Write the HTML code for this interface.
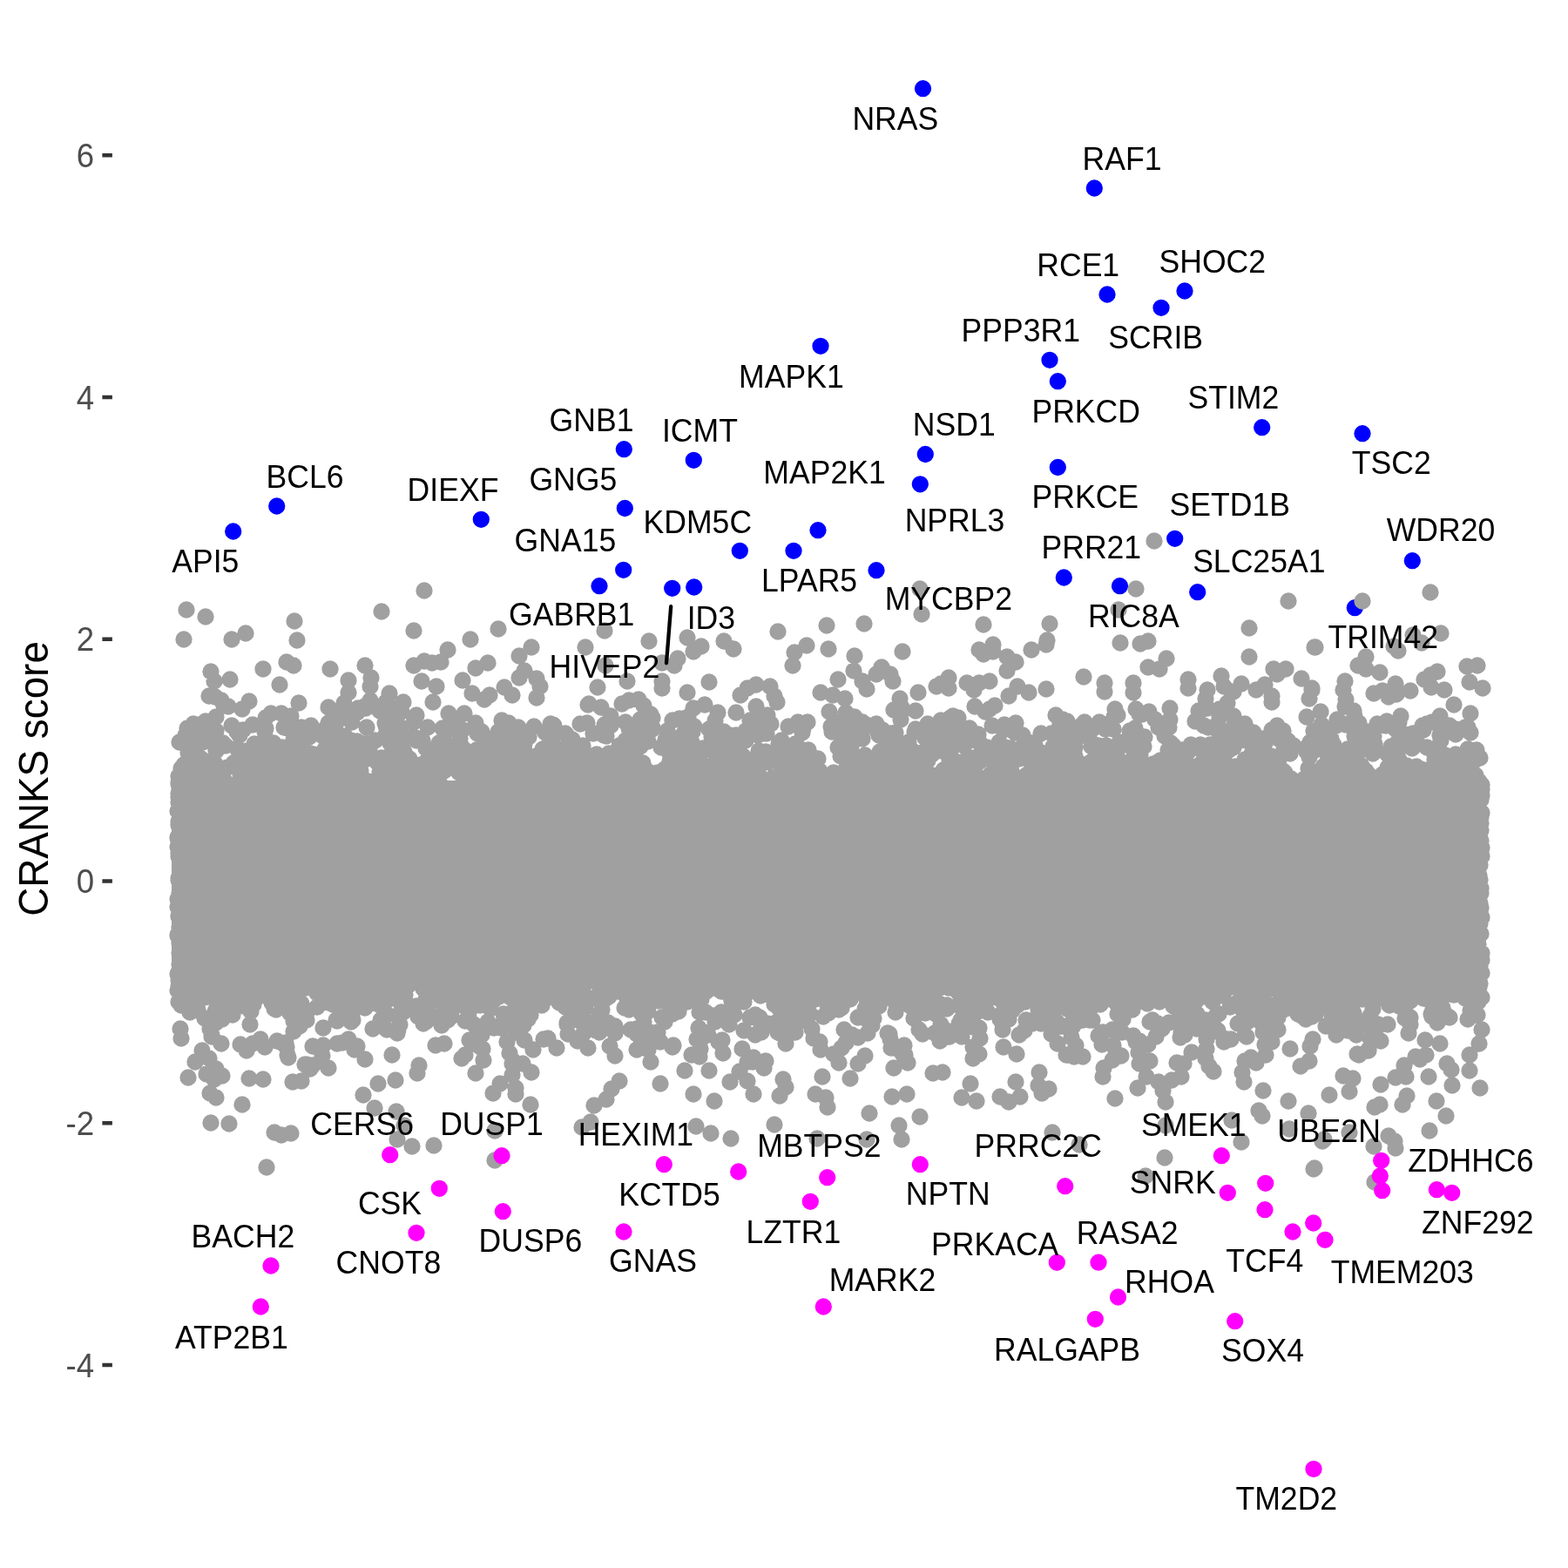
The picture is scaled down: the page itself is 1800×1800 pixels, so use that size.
<!DOCTYPE html><html><head><meta charset="utf-8"><title>CRANKS score</title>
<style>html,body{margin:0;padding:0;background:#fff}svg{display:block}text{font-family:"Liberation Sans",sans-serif}.lab{font-size:35.6px;fill:#000;text-anchor:middle}.tick{font-size:36.67px;fill:#4d4d4d;text-anchor:end}.ytitle{font-size:45.83px;fill:#000;text-anchor:middle}</style></head><body>
<svg width="1800" height="1800" viewBox="0 0 1800 1800">
<rect width="1800" height="1800" fill="#fff"/>
<rect x="117.4" y="176.00" width="11.5" height="4.5" fill="#333"/>
<text class="tick" transform="translate(108.2,191.8) scale(1,1.045)">6</text>
<rect x="117.4" y="453.75" width="11.5" height="4.5" fill="#333"/>
<text class="tick" transform="translate(108.2,469.5) scale(1,1.045)">4</text>
<rect x="117.4" y="731.50" width="11.5" height="4.5" fill="#333"/>
<text class="tick" transform="translate(108.2,747.2) scale(1,1.045)">2</text>
<rect x="117.4" y="1009.25" width="11.5" height="4.5" fill="#333"/>
<text class="tick" transform="translate(108.2,1025.0) scale(1,1.045)">0</text>
<rect x="117.4" y="1287.00" width="11.5" height="4.5" fill="#333"/>
<text class="tick" transform="translate(108.2,1302.8) scale(1,1.045)">-2</text>
<rect x="117.4" y="1564.75" width="11.5" height="4.5" fill="#333"/>
<text class="tick" transform="translate(108.2,1580.5) scale(1,1.045)">-4</text>
<text class="ytitle" transform="translate(55,894) rotate(-90) scale(1,1.045)" >CRANKS score</text>
<path d="M1059.5 101.7h.01M1256.3 216.0h.01M1271.0 338.0h.01M1360.0 334.0h.01M1333.0 353.3h.01M1205.0 413.3h.01M1214.3 437.7h.01M1448.7 490.7h.01M1564.0 497.7h.01M1214.3 536.5h.01M1348.7 618.3h.01M942.0 397.3h.01M716.3 515.7h.01M796.3 528.3h.01M1062.3 521.5h.01M1056.3 555.8h.01M717.3 583.5h.01M317.7 581.0h.01M267.7 610.0h.01M552.3 596.3h.01M715.7 654.3h.01M688.0 672.7h.01M771.7 675.3h.01M796.7 674.0h.01M849.3 632.3h.01M911.0 632.3h.01M939.0 608.7h.01M1006.0 654.7h.01M1221.3 663.0h.01M1285.5 672.7h.01M1374.7 679.7h.01M1621.3 643.7h.01M1555.3 697.7h.01" stroke="#0000ff" stroke-width="19.3" stroke-linecap="round" fill="none"/>
<rect x="197.0" y="896" width="1508.8" height="239" fill="#a0a0a0"/>
<path d="M247 800h.01M1594 800h.01M970 802h.01M616 801h.01M1384 802h.01M1033 802h.01M733 803h.01M556 803h.01M1503 802h.01M1545 803h.01M425 804h.01M254 804h.01M722 804h.01M443 806h.01M892 806h.01M286 805h.01M463 806h.01M1460 806h.01M395 807h.01M497 806h.01M1409 807h.01M343 807h.01M676 808h.01M1669 809h.01M714 808h.01M675 809h.01M809 809h.01M1142 810h.01M868 811h.01M1544 811h.01M257 810h.01M448 811h.01M420 810h.01M739 810h.01M1119 811h.01M262 811h.01M1035 812h.01M690 812h.01M796 813h.01M377 812h.01M420 813h.01M278 814h.01M1280 814h.01M1343 813h.01M1386 813h.01M411 813h.01M1136 814h.01M1304 814h.01M1400 814h.01M1032 815h.01M1026 815h.01M436 816h.01M1378 816h.01M1554 816h.01M1516 817h.01M1319 817h.01M1376 816h.01M1051 816h.01M1035 817h.01M1131 817h.01M845 818h.01M410 818h.01M824 818h.01M952 817h.01M971 818h.01M461 817h.01M1688 819h.01M384 818h.01M515 819h.01M1308 820h.01M323 819h.01M747 820h.01M311 819h.01M533 819h.01M1311 820h.01M881 821h.01M334 822h.01M1416 822h.01M875 821h.01M1555 822h.01M1653 822h.01M1212 821h.01M478 821h.01M1283 821h.01M1608 822h.01M701 822h.01M1094 822h.01M395 822h.01M790 823h.01M981 823h.01M1400 823h.01M248 823h.01M1279 823h.01M749 824h.01M448 823h.01M1091 824h.01M1500 823h.01M1100 824h.01M305 824h.01M780 825h.01M784 825h.01M1034 826h.01M1326 826h.01M735 826h.01M866 825h.01M1535 826h.01M821 827h.01M861 827h.01M1343 826h.01M1220 826h.01M576 827h.01M236 828h.01M387 828h.01M523 827h.01M1080 827h.01M772 827h.01M787 827h.01M475 829h.01M1262 829h.01M1372 828h.01M404 829h.01M1245 829h.01M1225 828h.01M718 829h.01M927 829h.01M1606 829h.01M784 828h.01M1592 828h.01M1644 829h.01M990 829h.01M1166 830h.01M971 829h.01M959 829h.01M1538 829h.01M916 829h.01M584 830h.01M674 830h.01M1095 830h.01M450 830h.01M1265 831h.01M875 831h.01M546 830h.01M1217 830h.01M1560 830h.01M1429 831h.01M1549 831h.01M442 830h.01M546 830h.01M377 830h.01M232 831h.01M745 831h.01M885 831h.01M1006 831h.01M632 831h.01M666 831h.01M1065 831h.01M694 832h.01M222 831h.01M290 832h.01M1153 832h.01M1638 831h.01M1581 831h.01M981 832h.01M1398 831h.01M918 831h.01M635 832h.01M1382 833h.01M701 833h.01M876 832h.01M998 833h.01M1241 833h.01M266 833h.01M1584 833h.01M1664 833h.01M1417 832h.01M1545 832h.01M1517 832h.01M1139 833h.01M1269 833h.01M1657 832h.01M357 833h.01M1633 833h.01M875 833h.01M905 834h.01M613 834h.01M636 833h.01M727 834h.01M443 833h.01M1591 833h.01M1466 833h.01M1534 833h.01M1685 835h.01M1330 835h.01M1682 835h.01M421 835h.01M797 834h.01M954 834h.01M232 834h.01M1096 835h.01M1303 836h.01M326 835h.01M1342 835h.01M1387 835h.01M215 836h.01M867 835h.01M595 835h.01M722 836h.01M455 835h.01M1113 836h.01M376 835h.01M491 835h.01M448 835h.01M518 835h.01M922 836h.01M749 835h.01M346 835h.01M460 835h.01M508 836h.01M305 836h.01M749 837h.01M330 836h.01M1231 837h.01M978 837h.01M374 836h.01M1051 837h.01M1671 837h.01M1083 837h.01M1248 836h.01M1106 836h.01M742 836h.01M217 837h.01M1278 837h.01M635 836h.01M1460 838h.01M1602 837h.01M1254 837h.01M1007 837h.01M1013 838h.01M724 837h.01M1269 837h.01M814 837h.01M1659 838h.01M1508 839h.01M531 838h.01M1246 838h.01M1634 838h.01M1297 839h.01M524 839h.01M696 838h.01M279 838h.01M1152 838h.01M1473 839h.01M597 839h.01M874 839h.01M795 840h.01M1072 840h.01M788 840h.01M955 840h.01M1573 840h.01M856 839h.01M1569 840h.01M1401 839h.01M858 840h.01M572 840h.01M1011 839h.01M766 839h.01M1212 840h.01M248 839h.01M1008 841h.01M1057 840h.01M1565 841h.01M1050 840h.01M1076 840h.01M382 840h.01M272 840h.01M572 841h.01M1073 841h.01M1435 840h.01M786 840h.01M831 840h.01M304 840h.01M788 841h.01M626 841h.01M553 840h.01M876 842h.01M1439 841h.01M1402 842h.01M1070 841h.01M1521 841h.01M1022 842h.01M1567 842h.01M1688 841h.01M1195 842h.01M973 842h.01M1028 841h.01M1165 841h.01M921 841h.01M1207 842h.01M649 842h.01M1098 842h.01M548 842h.01M880 842h.01M1622 842h.01M1117 842h.01M1096 842h.01M681 842h.01M1082 843h.01M341 843h.01M693 844h.01M825 843h.01M351 844h.01M369 844h.01M1235 844h.01M443 843h.01M1613 843h.01M1220 843h.01M1123 843h.01M390 844h.01M213 844h.01M1400 843h.01M1009 844h.01M1671 843h.01M650 843h.01M838 844h.01M1174 844h.01M379 845h.01M870 844h.01M607 845h.01M575 844h.01M1614 844h.01M584 845h.01M1577 845h.01M1218 845h.01M1337 845h.01M845 844h.01M1300 845h.01M1653 844h.01M1517 844h.01M1621 845h.01M275 844h.01M214 845h.01M1618 846h.01M846 846h.01M1555 845h.01M1513 845h.01M696 845h.01M444 846h.01M240 846h.01M459 846h.01M396 845h.01M607 846h.01M1415 846h.01M1314 846h.01M1018 845h.01M473 846h.01M817 846h.01M355 846h.01M1302 846h.01M1225 846h.01M781 846h.01M966 846h.01M1250 847h.01M1421 846h.01M1062 847h.01M1296 847h.01M1617 847h.01M830 847h.01M1448 848h.01M477 847h.01M1306 847h.01M598 848h.01M1466 847h.01M1027 848h.01M528 848h.01M1528 848h.01M1231 848h.01M1019 848h.01M1212 848h.01M1221 848h.01M1407 849h.01M337 849h.01M631 848h.01M386 848h.01M990 848h.01M509 849h.01M764 849h.01M570 849h.01M739 849h.01M343 850h.01M735 850h.01M1469 849h.01M227 850h.01M1654 850h.01M856 850h.01M239 849h.01M1075 850h.01M1439 849h.01M897 850h.01M657 849h.01M1114 850h.01M478 850h.01M824 849h.01M589 849h.01M1065 849h.01M1479 851h.01M777 851h.01M462 850h.01M1564 850h.01M431 850h.01M718 850h.01M1478 850h.01M403 850h.01M1626 850h.01M744 851h.01M1605 851h.01M1424 850h.01M729 851h.01M558 850h.01M485 850h.01M1285 852h.01M1043 852h.01M560 852h.01M1433 851h.01M557 851h.01M1147 852h.01M206 852h.01M1609 851h.01M410 851h.01M1507 852h.01M504 853h.01M233 852h.01M794 852h.01M634 853h.01M1125 853h.01M1178 853h.01M256 853h.01M1078 852h.01M832 852h.01M1504 852h.01M448 853h.01M1344 853h.01M1218 852h.01M1096 854h.01M602 854h.01M230 853h.01M1618 853h.01M969 854h.01M1184 853h.01M1255 854h.01M1613 853h.01M414 853h.01M421 854h.01M1452 853h.01M314 853h.01M1233 854h.01M894 854h.01M1578 854h.01M1367 855h.01M830 854h.01M913 854h.01M794 855h.01M1180 855h.01M1181 854h.01M292 854h.01M1476 855h.01M1389 855h.01M1378 855h.01M259 856h.01M560 855h.01M407 856h.01M249 856h.01M651 856h.01M1568 856h.01M840 856h.01M1485 856h.01M582 855h.01M1521 856h.01M299 856h.01M1086 855h.01M1531 855h.01M420 855h.01M711 856h.01M1188 855h.01M794 855h.01M1261 856h.01M344 855h.01M570 855h.01M669 856h.01M1106 856h.01M1234 857h.01M417 857h.01M516 857h.01M632 857h.01M1174 857h.01M530 857h.01M735 857h.01M915 856h.01M1270 856h.01M1347 856h.01M1313 857h.01M727 858h.01M977 857h.01M1253 857h.01M1638 858h.01M1176 857h.01M1416 858h.01M1389 858h.01M342 858h.01M1501 857h.01M324 858h.01M567 857h.01M1605 858h.01M1154 858h.01M1209 857h.01M386 857h.01M962 858h.01M656 857h.01M717 857h.01M1597 857h.01M794 858h.01M582 857h.01M1032 857h.01M1622 858h.01M423 858h.01M456 858h.01M772 858h.01M759 858h.01M827 858h.01M1234 858h.01M272 859h.01M308 859h.01M1026 859h.01M489 859h.01M399 858h.01M1183 858h.01M1082 859h.01M392 859h.01M838 859h.01M221 858h.01M1133 858h.01M807 859h.01M719 858h.01M1364 860h.01M910 859h.01M397 859h.01M504 860h.01M815 859h.01M1160 859h.01M248 860h.01M1621 859h.01M1451 859h.01M1213 860h.01M1300 859h.01M424 860h.01M1341 861h.01M1685 860h.01M1155 860h.01M373 860h.01M623 860h.01M547 861h.01M845 860h.01M1555 861h.01M1357 861h.01M1307 860h.01M1643 860h.01M1547 860h.01M710 860h.01M803 861h.01M1411 861h.01M553 860h.01M317 861h.01M1579 861h.01M1510 861h.01M1269 861h.01M871 862h.01M730 861h.01M1084 862h.01M1695 861h.01M590 861h.01M511 861h.01M578 862h.01M376 862h.01M646 861h.01M928 861h.01M1049 863h.01M218 862h.01M1081 862h.01M581 863h.01M666 863h.01M1128 862h.01M602 862h.01M1010 863h.01M283 862h.01M248 862h.01M453 863h.01M1364 863h.01M1072 863h.01M1265 862h.01M1181 862h.01M899 863h.01M535 862h.01M464 863h.01M624 864h.01M912 864h.01M908 864h.01M1576 864h.01M1381 863h.01M377 864h.01M287 863h.01M1132 864h.01M1546 863h.01M1500 863h.01M1137 863h.01M1473 863h.01M216 864h.01M1195 864h.01M390 863h.01M1140 864h.01M1194 864h.01M1184 863h.01M879 863h.01M1306 864h.01M1282 864h.01M1559 864h.01M281 864h.01M920 865h.01M1396 864h.01M507 865h.01M1654 864h.01M337 865h.01M1126 865h.01M501 864h.01M1403 864h.01M802 864h.01M1399 864h.01M770 865h.01M1481 865h.01M717 865h.01M784 865h.01M1392 865h.01M1437 865h.01M1059 864h.01M1045 865h.01M799 866h.01M1148 866h.01M581 866h.01M1194 866h.01M769 865h.01M1037 865h.01M1576 865h.01M628 865h.01M360 866h.01M1671 866h.01M1063 866h.01M699 865h.01M461 865h.01M1593 866h.01M1021 866h.01M1155 866h.01M882 866h.01M356 865h.01M1214 865h.01M619 866h.01M408 865h.01M654 867h.01M822 867h.01M1349 866h.01M533 867h.01M685 866h.01M1604 866h.01M1659 867h.01M1145 866h.01M1148 867h.01M794 866h.01M402 866h.01M825 867h.01M292 866h.01M804 866h.01M993 867h.01M510 867h.01M978 866h.01M1647 867h.01M448 867h.01M1070 866h.01M560 866h.01M569 866h.01M719 867h.01M1091 866h.01M329 867h.01M965 868h.01M853 868h.01M1222 867h.01M1053 867h.01M448 867h.01M1695 867h.01M1531 867h.01M327 868h.01M1193 867h.01M1459 868h.01M826 868h.01M1309 867h.01M1277 868h.01M1234 868h.01M1686 868h.01M907 868h.01M1352 868h.01M612 869h.01M536 868h.01M1436 868h.01M623 868h.01M275 869h.01M684 868h.01M703 868h.01M1469 868h.01M632 869h.01M726 869h.01M698 869h.01M679 868h.01M1699 870h.01M989 870h.01M1209 870h.01M1689 869h.01M872 870h.01M528 869h.01M1550 869h.01M1542 870h.01M452 870h.01M637 869h.01M1677 870h.01M1348 869h.01M1680 870h.01M1671 870h.01M274 870h.01M1459 870h.01M1135 869h.01M1503 869h.01M498 869h.01M506 870h.01M313 870h.01M470 871h.01M438 870h.01M1115 870h.01M528 870h.01M1603 870h.01M231 871h.01M1531 871h.01M911 871h.01M823 870h.01M856 871h.01M1025 871h.01M306 871h.01M986 871h.01M824 870h.01M707 870h.01M883 871h.01M1448 870h.01M1429 872h.01M1137 872h.01M875 872h.01M1458 872h.01M379 871h.01M600 871h.01M648 872h.01M725 871h.01M777 871h.01M1060 871h.01M1606 872h.01M1668 872h.01M939 871h.01M523 871h.01M1308 871h.01M1170 871h.01M924 872h.01M651 871h.01M635 872h.01M1032 871h.01M422 871h.01M888 873h.01M1693 873h.01M721 873h.01M337 873h.01M1524 873h.01M352 873h.01M1405 872h.01M1468 872h.01M996 873h.01M1384 872h.01M591 873h.01M375 872h.01M905 873h.01M840 873h.01M1220 873h.01M1647 872h.01M1060 872h.01M491 872h.01M520 873h.01M1440 873h.01M568 873h.01M273 873h.01M1065 873h.01M1557 874h.01M1338 873h.01M769 874h.01M1125 874h.01M582 873h.01M1218 873h.01M318 873h.01M1232 873h.01M1332 873h.01M631 874h.01M1109 873h.01M1090 873h.01M1654 874h.01M512 873h.01M1063 875h.01M1269 874h.01M1148 875h.01M648 874h.01M802 875h.01M406 875h.01M235 874h.01M1207 875h.01M1353 875h.01M585 875h.01M1104 875h.01M1606 874h.01M1656 874h.01M1158 874h.01M345 875h.01M522 875h.01M895 874h.01M222 875h.01M778 876h.01M240 876h.01M1349 875h.01M1682 875h.01M1329 875h.01M1239 876h.01M381 875h.01M1544 875h.01M433 875h.01M388 875h.01M738 876h.01M882 875h.01M732 875h.01M875 876h.01M1223 876h.01M1006 875h.01M1356 876h.01M1296 875h.01M1532 875h.01M1312 876h.01M1252 875h.01M1654 875h.01M469 876h.01M1062 875h.01M634 876h.01M371 877h.01M1253 877h.01M552 876h.01M1184 877h.01M1357 876h.01M302 876h.01M997 876h.01M1387 876h.01M390 877h.01M1342 876h.01M704 876h.01M247 877h.01M280 877h.01M1143 877h.01M268 876h.01M975 876h.01M227 876h.01M1362 876h.01M1277 876h.01M602 877h.01M500 876h.01M684 878h.01M537 878h.01M236 877h.01M296 877h.01M1324 877h.01M1377 878h.01M483 878h.01M1659 877h.01M320 877h.01M1016 878h.01M1059 877h.01M447 877h.01M906 877h.01M651 878h.01M838 877h.01M1201 877h.01M975 877h.01M376 878h.01M1056 878h.01M211 878h.01M842 877h.01M1286 877h.01M803 877h.01M1053 877h.01M796 879h.01M343 879h.01M1428 878h.01M304 878h.01M1346 879h.01M408 878h.01M1451 879h.01M1246 878h.01M1687 878h.01M734 878h.01M1615 879h.01M1032 878h.01M1278 878h.01M1437 879h.01M1563 880h.01M988 879h.01M530 879h.01M1253 879h.01M1675 879h.01M698 880h.01M1519 880h.01M387 879h.01M1275 880h.01M1686 880h.01M1375 880h.01M1027 880h.01M509 879h.01M668 879h.01M1626 880h.01M1318 880h.01M778 880h.01M1563 879h.01M770 879h.01M493 880h.01M789 880h.01M1097 879h.01M853 880h.01M682 879h.01M1615 880h.01M1532 881h.01M624 881h.01M1593 881h.01M897 880h.01M1199 881h.01M728 880h.01M816 880h.01M1462 880h.01M903 881h.01M1415 881h.01M704 880h.01M703 881h.01M1418 880h.01M1110 881h.01M1045 880h.01M914 881h.01M1143 880h.01M619 882h.01M801 882h.01M650 882h.01M488 881h.01M697 881h.01M1343 881h.01M724 882h.01M548 881h.01M1054 882h.01M837 882h.01M1502 882h.01M1043 882h.01M1609 882h.01M406 882h.01M999 882h.01M610 882h.01M723 882h.01M618 881h.01M1224 881h.01M813 882h.01M1331 882h.01M1030 882h.01M626 882h.01M1338 881h.01M1382 882h.01M1046 882h.01M1251 881h.01M1412 882h.01M1227 882h.01M1247 882h.01M1426 881h.01M261 881h.01M643 882h.01M813 883h.01M1652 883h.01M773 883h.01M841 882h.01M1336 882h.01M1367 883h.01M358 883h.01M239 882h.01M642 883h.01M284 882h.01M866 882h.01M1668 882h.01M1554 883h.01M1272 883h.01M1214 883h.01M1523 882h.01M338 882h.01M365 883h.01M1614 883h.01M456 882h.01M1000 883h.01M1411 883h.01M900 883h.01M1014 883h.01M208 882h.01M334 882h.01M319 884h.01M795 883h.01M1635 884h.01M707 883h.01M938 884h.01M971 883h.01M373 883h.01M1387 883h.01M1673 884h.01M808 883h.01M901 884h.01M382 883h.01M319 884h.01M1628 884h.01M650 884h.01M1083 884h.01M763 883h.01M309 883h.01M853 884h.01M906 883h.01M1552 884h.01M1107 884h.01M1208 883h.01M1631 883h.01M444 884h.01M1256 884h.01M915 885h.01M1545 885h.01M1392 885h.01M553 885h.01M1119 885h.01M1631 885h.01M692 884h.01M1036 885h.01M1465 884h.01M935 884h.01M1161 885h.01M500 885h.01M414 885h.01M1298 885h.01M629 884h.01M1059 884h.01M1433 884h.01M404 884h.01M1257 884h.01M835 884h.01M1373 884h.01M498 885h.01M976 884h.01M1686 884h.01M832 885h.01M941 885h.01M1006 884h.01M1006 885h.01M624 885h.01M743 885h.01M1199 886h.01M910 885h.01M1408 886h.01M1226 885h.01M1379 885h.01M1536 885h.01M213 885h.01M1288 886h.01M1473 885h.01M1093 885h.01M540 885h.01M1146 886h.01M1104 886h.01M1557 885h.01M1038 886h.01M495 886h.01M320 885h.01M481 885h.01M510 885h.01M870 885h.01M1303 885h.01M1156 885h.01M931 885h.01M1568 885h.01M919 885h.01M1382 885h.01M908 886h.01M1389 885h.01M295 886h.01M586 885h.01M336 886h.01M1218 887h.01M592 886h.01M1353 886h.01M564 886h.01M1363 886h.01M286 887h.01M1234 886h.01M1294 887h.01M755 887h.01M957 887h.01M1629 886h.01M339 886h.01M1102 886h.01M436 886h.01M1475 887h.01M392 886h.01M610 886h.01M1460 886h.01M1050 886h.01M309 886h.01M1244 887h.01M941 886h.01M714 887h.01M527 887h.01M1461 886h.01M1598 887h.01M1668 887h.01M300 887h.01M568 887h.01M1536 886h.01M1182 887h.01M485 886h.01M1346 887h.01M1032 888h.01M781 888h.01M729 888h.01M310 887h.01M367 888h.01M1199 887h.01M762 887h.01M1529 888h.01M1540 888h.01M600 887h.01M1199 887h.01M291 888h.01M335 887h.01M1427 888h.01M1397 888h.01M1189 887h.01M1264 887h.01M231 887h.01M439 888h.01M632 887h.01M1365 888h.01M1269 888h.01M1376 888h.01M1212 888h.01M1395 887h.01M683 888h.01M685 888h.01M695 888h.01M1451 888h.01M1442 889h.01M278 889h.01M1193 888h.01M1449 888h.01M779 888h.01M780 888h.01M771 889h.01M899 889h.01M1541 889h.01M373 889h.01M1396 889h.01M792 889h.01M1038 888h.01M965 888h.01M1237 889h.01M1519 888h.01M283 888h.01M822 888h.01M458 889h.01M1007 890h.01M1265 890h.01M587 890h.01M572 889h.01M1340 890h.01M1684 890h.01M582 889h.01M848 889h.01M976 889h.01M276 889h.01M741 890h.01M467 889h.01M551 890h.01M1348 889h.01M286 890h.01M1505 889h.01M217 889h.01M456 889h.01M803 889h.01M1571 889h.01M372 890h.01M1534 889h.01M964 889h.01M1216 889h.01M586 890h.01M1437 890h.01M1187 890h.01M290 889h.01M1137 889h.01M1694 890h.01M1341 890h.01M1070 890h.01M763 890h.01M964 890h.01M611 889h.01M1037 890h.01M1587 889h.01M1516 889h.01M478 891h.01M357 891h.01M1509 891h.01M287 890h.01M864 890h.01M1213 890h.01M843 890h.01M307 891h.01M1100 890h.01M1522 890h.01M800 890h.01M1392 891h.01M630 891h.01M1629 890h.01M1650 890h.01M1264 891h.01M727 891h.01M205 891h.01M952 891h.01M1350 891h.01M1405 891h.01M766 890h.01M1178 890h.01M1633 890h.01M588 890h.01M1466 891h.01M405 891h.01M335 891h.01M1002 891h.01M1382 892h.01M807 891h.01M1027 892h.01M1343 891h.01M1116 892h.01M1090 892h.01M667 891h.01M637 892h.01M1654 891h.01M1184 892h.01M1522 891h.01M1135 892h.01M1649 891h.01M925 892h.01M1603 891h.01M1533 891h.01M281 891h.01M317 891h.01M556 891h.01M1655 892h.01M359 891h.01M1242 892h.01M872 891h.01M1321 891h.01M1282 891h.01M354 891h.01M1091 892h.01M1505 892h.01M292 893h.01M1597 892h.01M210 892h.01M744 893h.01M887 893h.01M1422 892h.01M668 893h.01M1014 892h.01M1029 893h.01M1289 893h.01M1139 893h.01M1070 892h.01M1348 892h.01M590 892h.01M990 893h.01M738 893h.01M856 892h.01M1651 893h.01M231 893h.01M954 893h.01M391 893h.01M1185 893h.01M949 893h.01M1457 893h.01M766 892h.01M920 892h.01M554 893h.01M1359 893h.01M441 892h.01M481 893h.01M656 892h.01M305 893h.01M1600 892h.01M938 893h.01M1505 892h.01M294 893h.01M1266 892h.01M1676 893h.01M1058 893h.01M324 893h.01M1686 892h.01M1355 893h.01M386 893h.01M703 894h.01M994 893h.01M636 893h.01M748 894h.01M1445 894h.01M1612 893h.01M1040 894h.01M964 893h.01M370 894h.01M1331 893h.01M500 894h.01M1474 893h.01M1180 893h.01M588 893h.01M449 894h.01M348 893h.01M1205 894h.01M1033 893h.01M1415 894h.01M249 894h.01M1135 894h.01M786 893h.01M1103 894h.01M240 894h.01M1159 894h.01M227 893h.01M394 893h.01M1562 893h.01M742 894h.01M1326 894h.01M390 893h.01M536 893h.01M1222 893h.01M1645 895h.01M413 895h.01M944 895h.01M1016 895h.01M625 895h.01M231 894h.01M440 895h.01M233 894h.01M785 894h.01M1579 895h.01M1010 894h.01M495 894h.01M812 895h.01M1482 894h.01M1496 895h.01M443 894h.01M241 895h.01M572 894h.01M1191 894h.01M1617 895h.01M1532 895h.01M1301 894h.01M840 895h.01M477 894h.01M1568 894h.01M1041 894h.01M1318 895h.01M479 895h.01M680 895h.01M928 895h.01M830 895h.01M1613 895h.01M1425 895h.01M546 894h.01M1554 895h.01M1472 895h.01M772 895h.01M721 895h.01M876 895h.01M356 896h.01M1680 895h.01M752 896h.01M418 895h.01M1561 895h.01M1635 896h.01M1083 896h.01M964 895h.01M1142 895h.01M1475 895h.01M493 896h.01M1006 895h.01M1369 895h.01M1281 896h.01M642 896h.01M936 895h.01M1668 895h.01M779 896h.01M1237 895h.01M1165 895h.01M1325 896h.01M1196 896h.01M734 896h.01M893 896h.01M257 895h.01M438 896h.01M1134 895h.01M1621 895h.01M225 896h.01M637 896h.01M565 896h.01M401 896h.01M1396 896h.01M1075 896h.01M391 896h.01M254 896h.01M1260 896h.01M542 896h.01M1431 896h.01M700 897h.01M577 897h.01M463 896h.01M843 897h.01M1057 896h.01M1372 897h.01M934 897h.01M1409 896h.01M414 896h.01M333 897h.01M776 896h.01M1026 896h.01M275 896h.01M1441 897h.01M1680 896h.01M1646 896h.01M937 897h.01M1267 898h.01M738 897h.01M667 898h.01M941 897h.01M1549 897h.01M1454 898h.01M346 897h.01M1172 898h.01M462 897h.01M348 897h.01M990 898h.01M766 897h.01M1628 898h.01M406 897h.01M775 897h.01M754 897h.01M1570 898h.01M1208 897h.01M1389 897h.01M1505 897h.01M423 897h.01M1426 898h.01M1321 897h.01M282 898h.01M460 898h.01M910 897h.01M818 897h.01M379 898h.01M882 898h.01M702 897h.01M1394 898h.01M801 897h.01M1681 897h.01M806 897h.01M361 897h.01M1026 898h.01M795 898h.01M1445 898h.01M473 898h.01M901 898h.01M1223 899h.01M1577 898h.01M815 899h.01M1388 899h.01M443 898h.01M713 899h.01M474 898h.01M778 899h.01M1252 899h.01M981 898h.01M1667 898h.01M1032 898h.01M457 898h.01M571 898h.01M1535 898h.01M275 899h.01M749 898h.01M1342 899h.01M1320 899h.01M1339 899h.01M413 899h.01M1254 899h.01M1472 899h.01M1189 898h.01M705 898h.01M808 899h.01M715 899h.01M497 899h.01M555 899h.01M1381 899h.01M1345 898h.01M1230 898h.01M962 898h.01M866 899h.01M375 899h.01M1529 899h.01M899 899h.01M1243 900h.01M1249 900h.01M1387 900h.01M579 900h.01M790 899h.01M1146 899h.01M1231 900h.01M311 899h.01M1023 899h.01M1598 900h.01M360 900h.01M844 900h.01M1607 900h.01M1154 899h.01M1201 900h.01M702 899h.01M1658 899h.01M1234 900h.01M809 900h.01M384 899h.01M1445 899h.01M597 899h.01M834 900h.01M1630 899h.01M224 900h.01M1566 899h.01M1123 900h.01M1035 900h.01M622 900h.01M535 900h.01M1629 900h.01M783 900h.01M960 900h.01M1681 900h.01M922 900h.01M625 901h.01M1221 900h.01M1176 900h.01M1192 901h.01M225 900h.01M589 900h.01M1574 901h.01M1125 901h.01M1211 900h.01M505 900h.01M437 900h.01M1397 900h.01M783 901h.01M1654 900h.01M1083 900h.01M476 900h.01M1376 900h.01M1043 900h.01M231 901h.01M1494 901h.01M855 900h.01M1212 901h.01M951 900h.01M915 901h.01M1147 901h.01M1070 901h.01M911 900h.01M657 902h.01M371 901h.01M977 902h.01M1671 901h.01M267 902h.01M1545 901h.01M650 902h.01M1164 902h.01M1196 902h.01M643 902h.01M1087 901h.01M1283 902h.01M1072 902h.01M821 902h.01M780 902h.01M1096 902h.01M1579 902h.01M1086 902h.01M1265 901h.01M678 902h.01M413 902h.01M1355 902h.01M703 902h.01M1315 902h.01M1281 902h.01M629 901h.01M1427 902h.01M558 901h.01M933 902h.01M1345 901h.01M579 902h.01M398 901h.01M761 902h.01M233 901h.01M1264 901h.01M873 901h.01M466 902h.01M1586 902h.01M342 902h.01M1415 901h.01M430 902h.01M1155 901h.01M646 902h.01M335 901h.01M922 902h.01M373 903h.01M332 902h.01M1271 902h.01M432 903h.01M846 902h.01M841 902h.01M1428 903h.01M1345 903h.01M1059 902h.01M1178 902h.01M626 903h.01M567 903h.01M1099 903h.01M367 902h.01M462 902h.01M1028 903h.01M1545 902h.01M949 903h.01M827 902h.01M349 902h.01M685 902h.01M1626 903h.01M351 903h.01M959 903h.01M486 902h.01M936 903h.01M419 903h.01M440 902h.01M1056 902h.01M714 903h.01M989 903h.01M1581 904h.01M1511 903h.01M1564 904h.01M986 903h.01M447 904h.01M636 903h.01M845 903h.01M841 903h.01M1551 904h.01M644 903h.01M1404 904h.01M1434 904h.01M699 903h.01M763 903h.01M617 903h.01M377 903h.01M383 903h.01M1591 904h.01M359 904h.01M212 904h.01M1141 904h.01M621 903h.01M262 904h.01M1369 903h.01M1700 903h.01M1575 904h.01M839 904h.01M1045 903h.01M1233 903h.01M434 904h.01M489 904h.01M502 903h.01M1404 904h.01M805 904h.01M1617 903h.01M606 903h.01M388 905h.01M635 905h.01M1045 905h.01M1031 904h.01M1253 904h.01M1506 904h.01M1361 905h.01M880 904h.01M990 904h.01M1045 904h.01M1467 904h.01M1331 904h.01M1479 905h.01M317 905h.01M1420 905h.01M491 905h.01M1090 904h.01M1162 904h.01M1251 904h.01M662 904h.01M763 905h.01M1187 904h.01M623 904h.01M737 905h.01M1601 905h.01M330 904h.01M755 905h.01M279 904h.01M1439 905h.01M860 905h.01M1256 905h.01M834 905h.01M389 904h.01M1156 904h.01M1460 905h.01M1385 905h.01M1156 904h.01M697 904h.01M796 905h.01M593 906h.01M1019 905h.01M1607 906h.01M1226 906h.01M206 906h.01M1285 906h.01M527 905h.01M1288 906h.01M548 906h.01M307 905h.01M772 905h.01M735 906h.01M657 905h.01M360 906h.01M807 906h.01M806 906h.01M811 905h.01M219 905h.01M1315 905h.01M1360 905h.01M1257 906h.01M569 905h.01M599 905h.01M1580 906h.01M360 906h.01M1222 906h.01M1461 906h.01M1367 905h.01M1322 906h.01M829 906h.01M222 906h.01M1528 906h.01M776 905h.01M489 905h.01M1691 906h.01M664 906h.01M1119 905h.01M1184 905h.01M986 906h.01M239 1126h.01M1314 1126h.01M1283 1126h.01M899 1126h.01M235 1125h.01M1608 1126h.01M479 1126h.01M1590 1126h.01M1165 1126h.01M1136 1126h.01M872 1126h.01M748 1126h.01M984 1126h.01M1524 1126h.01M1648 1125h.01M887 1126h.01M1219 1125h.01M749 1126h.01M1114 1126h.01M676 1126h.01M1196 1126h.01M511 1126h.01M780 1126h.01M340 1126h.01M715 1126h.01M396 1126h.01M1601 1127h.01M833 1127h.01M1197 1127h.01M1133 1127h.01M732 1127h.01M853 1127h.01M1660 1127h.01M951 1127h.01M1541 1126h.01M960 1126h.01M1471 1127h.01M697 1127h.01M1280 1127h.01M864 1127h.01M863 1127h.01M1577 1127h.01M551 1127h.01M1039 1127h.01M293 1127h.01M256 1127h.01M795 1127h.01M533 1127h.01M1550 1126h.01M997 1126h.01M257 1127h.01M673 1127h.01M1556 1127h.01M727 1127h.01M1376 1127h.01M783 1127h.01M763 1127h.01M642 1127h.01M753 1128h.01M1623 1128h.01M647 1128h.01M1626 1128h.01M1346 1128h.01M1521 1128h.01M1593 1128h.01M797 1128h.01M1300 1128h.01M865 1128h.01M1556 1128h.01M1518 1128h.01M1539 1128h.01M1301 1128h.01M1277 1128h.01M725 1128h.01M1636 1128h.01M1563 1128h.01M459 1128h.01M1055 1128h.01M1460 1128h.01M1429 1128h.01M1078 1128h.01M908 1128h.01M590 1128h.01M971 1128h.01M455 1129h.01M1599 1129h.01M1129 1129h.01M845 1129h.01M1003 1129h.01M270 1129h.01M488 1129h.01M1443 1128h.01M1178 1129h.01M1034 1129h.01M399 1129h.01M1569 1129h.01M390 1129h.01M351 1129h.01M1617 1129h.01M922 1129h.01M1043 1129h.01M1452 1129h.01M1459 1129h.01M512 1129h.01M1029 1129h.01M288 1129h.01M1503 1129h.01M405 1129h.01M1644 1129h.01M1461 1129h.01M1405 1128h.01M533 1129h.01M1190 1129h.01M1640 1129h.01M612 1129h.01M1322 1129h.01M1439 1129h.01M256 1129h.01M455 1129h.01M1644 1130h.01M632 1130h.01M303 1130h.01M1031 1130h.01M1645 1130h.01M1117 1130h.01M1513 1130h.01M1111 1130h.01M949 1130h.01M998 1130h.01M1104 1130h.01M669 1130h.01M1379 1129h.01M1694 1130h.01M1130 1130h.01M1229 1130h.01M854 1130h.01M1677 1130h.01M752 1130h.01M1475 1130h.01M670 1130h.01M410 1130h.01M1551 1130h.01M1270 1129h.01M1568 1130h.01M1546 1130h.01M1534 1130h.01M1299 1130h.01M622 1130h.01M1574 1130h.01M582 1129h.01M1138 1131h.01M841 1131h.01M1171 1131h.01M1239 1131h.01M325 1131h.01M380 1131h.01M1175 1131h.01M1590 1131h.01M1584 1131h.01M776 1131h.01M437 1131h.01M1696 1131h.01M1595 1131h.01M1101 1131h.01M1262 1131h.01M858 1130h.01M702 1130h.01M889 1131h.01M1674 1131h.01M428 1130h.01M665 1131h.01M515 1131h.01M632 1131h.01M430 1131h.01M848 1131h.01M1259 1131h.01M896 1131h.01M666 1131h.01M1216 1130h.01M815 1131h.01M688 1131h.01M1236 1131h.01M1358 1131h.01M227 1131h.01M1204 1130h.01M1072 1130h.01M1460 1131h.01M855 1130h.01M469 1131h.01M985 1131h.01M515 1131h.01M559 1131h.01M1640 1131h.01M585 1131h.01M766 1131h.01M862 1132h.01M1310 1131h.01M882 1132h.01M834 1132h.01M1669 1132h.01M779 1132h.01M858 1132h.01M1098 1132h.01M512 1132h.01M1284 1132h.01M360 1132h.01M1510 1132h.01M417 1132h.01M955 1131h.01M834 1132h.01M1645 1132h.01M993 1131h.01M260 1132h.01M1148 1132h.01M1062 1131h.01M614 1132h.01M664 1132h.01M1271 1132h.01M1186 1132h.01M1439 1132h.01M1160 1131h.01M535 1133h.01M1110 1133h.01M1133 1133h.01M1478 1133h.01M227 1133h.01M368 1133h.01M1272 1133h.01M998 1133h.01M1648 1133h.01M630 1133h.01M1219 1133h.01M617 1133h.01M967 1133h.01M888 1133h.01M706 1133h.01M690 1133h.01M1251 1133h.01M937 1133h.01M219 1133h.01M1361 1133h.01M1424 1133h.01M1124 1133h.01M331 1133h.01M651 1133h.01M1359 1133h.01M638 1133h.01M570 1133h.01M217 1133h.01M299 1133h.01M1151 1132h.01M1077 1133h.01M1413 1133h.01M563 1133h.01M753 1133h.01M488 1133h.01M561 1133h.01M1333 1133h.01M1370 1133h.01M1478 1133h.01M223 1133h.01M503 1134h.01M636 1134h.01M323 1133h.01M895 1134h.01M902 1133h.01M1691 1133h.01M669 1134h.01M608 1134h.01M832 1134h.01M328 1134h.01M1556 1134h.01M560 1134h.01M824 1134h.01M1079 1134h.01M1421 1134h.01M1261 1134h.01M973 1134h.01M1501 1134h.01M1089 1134h.01M923 1134h.01M931 1133h.01M590 1134h.01M913 1134h.01M351 1134h.01M1365 1134h.01M412 1133h.01M1151 1134h.01M262 1133h.01M748 1133h.01M1391 1134h.01M1417 1133h.01M431 1134h.01M1458 1135h.01M947 1134h.01M643 1135h.01M1646 1135h.01M1193 1135h.01M1507 1135h.01M765 1135h.01M916 1135h.01M1001 1134h.01M1362 1135h.01M1140 1135h.01M874 1135h.01M225 1135h.01M486 1135h.01M1433 1135h.01M1458 1135h.01M962 1135h.01M910 1135h.01M1422 1135h.01M993 1135h.01M607 1135h.01M844 1135h.01M1515 1135h.01M1040 1135h.01M1401 1135h.01M1310 1135h.01M1278 1134h.01M1311 1135h.01M1522 1135h.01M1145 1135h.01M281 1134h.01M946 1135h.01M632 1136h.01M308 1136h.01M1261 1136h.01M924 1136h.01M541 1136h.01M634 1135h.01M765 1136h.01M452 1136h.01M739 1136h.01M308 1136h.01M1201 1136h.01M604 1136h.01M1521 1136h.01M1629 1135h.01M1205 1136h.01M268 1136h.01M1638 1136h.01M596 1136h.01M1210 1136h.01M235 1135h.01M328 1136h.01M1256 1136h.01M853 1136h.01M1497 1136h.01M217 1135h.01M1122 1135h.01M825 1136h.01M977 1136h.01M634 1136h.01M433 1136h.01M584 1136h.01M498 1136h.01M1431 1136h.01M406 1136h.01M1650 1137h.01M745 1137h.01M546 1137h.01M204 1137h.01M1572 1137h.01M1349 1137h.01M1370 1137h.01M1023 1137h.01M840 1136h.01M1156 1137h.01M303 1136h.01M695 1137h.01M499 1137h.01M695 1136h.01M1581 1137h.01M1442 1137h.01M1648 1137h.01M1174 1137h.01M1285 1137h.01M1523 1137h.01M1330 1137h.01M901 1137h.01M1651 1137h.01M1611 1137h.01M452 1137h.01M1203 1137h.01M979 1137h.01M1223 1137h.01M624 1137h.01M772 1137h.01M1262 1137h.01M1493 1137h.01M655 1137h.01M1475 1137h.01M1359 1138h.01M224 1138h.01M1534 1138h.01M254 1138h.01M988 1138h.01M323 1138h.01M811 1138h.01M1676 1138h.01M994 1137h.01M252 1138h.01M1052 1138h.01M397 1138h.01M974 1138h.01M1225 1138h.01M1382 1138h.01M297 1138h.01M1372 1138h.01M787 1138h.01M1365 1138h.01M1643 1138h.01M1297 1138h.01M640 1138h.01M710 1138h.01M411 1138h.01M341 1138h.01M243 1138h.01M1318 1138h.01M493 1138h.01M508 1138h.01M898 1138h.01M1149 1138h.01M584 1138h.01M1250 1139h.01M1696 1139h.01M1100 1139h.01M455 1139h.01M205 1138h.01M256 1139h.01M692 1139h.01M802 1139h.01M288 1138h.01M1517 1139h.01M1201 1138h.01M260 1139h.01M1315 1139h.01M898 1139h.01M1444 1138h.01M1047 1139h.01M521 1139h.01M943 1139h.01M1498 1139h.01M908 1139h.01M1272 1139h.01M1618 1139h.01M573 1139h.01M805 1139h.01M721 1139h.01M1661 1139h.01M588 1139h.01M770 1139h.01M537 1139h.01M828 1138h.01M984 1139h.01M373 1140h.01M1601 1140h.01M1595 1140h.01M720 1140h.01M537 1140h.01M378 1140h.01M1660 1140h.01M1257 1140h.01M963 1140h.01M1590 1140h.01M656 1140h.01M364 1140h.01M1144 1140h.01M1609 1140h.01M1027 1140h.01M1188 1140h.01M1305 1140h.01M808 1140h.01M411 1140h.01M593 1140h.01M922 1140h.01M1301 1140h.01M1275 1140h.01M952 1140h.01M320 1140h.01M334 1140h.01M772 1140h.01M550 1139h.01M1341 1140h.01M490 1140h.01M730 1140h.01M1105 1140h.01M1687 1140h.01M1521 1140h.01M1394 1140h.01M514 1141h.01M260 1141h.01M1060 1141h.01M1665 1141h.01M492 1141h.01M1119 1140h.01M1472 1141h.01M1289 1141h.01M878 1141h.01M503 1141h.01M1000 1141h.01M218 1141h.01M763 1141h.01M1488 1141h.01M1048 1140h.01M656 1141h.01M1177 1141h.01M939 1141h.01M1134 1141h.01M786 1141h.01M632 1141h.01M1368 1141h.01M902 1140h.01M1502 1141h.01M1388 1141h.01M915 1142h.01M886 1141h.01M492 1142h.01M1308 1142h.01M1071 1142h.01M770 1142h.01M1630 1142h.01M765 1142h.01M742 1142h.01M627 1142h.01M319 1142h.01M309 1142h.01M1347 1141h.01M1072 1142h.01M1055 1142h.01M1130 1142h.01M600 1142h.01M465 1142h.01M1548 1142h.01M624 1142h.01M970 1142h.01M1611 1142h.01M512 1142h.01M1625 1142h.01M583 1141h.01M1121 1142h.01M1439 1142h.01M1182 1142h.01M890 1142h.01M232 1142h.01M223 1142h.01M768 1142h.01M774 1142h.01M1332 1142h.01M734 1142h.01M310 1142h.01M1510 1143h.01M1071 1143h.01M1016 1143h.01M908 1143h.01M951 1143h.01M774 1143h.01M882 1142h.01M855 1143h.01M1686 1143h.01M1191 1143h.01M1326 1143h.01M1239 1143h.01M1116 1143h.01M1575 1143h.01M1656 1142h.01M1249 1143h.01M905 1143h.01M1694 1143h.01M1493 1142h.01M661 1143h.01M1669 1142h.01M1404 1143h.01M1284 1142h.01M895 1143h.01M640 1143h.01M329 1142h.01M1180 1143h.01M1523 1144h.01M1261 1144h.01M573 1144h.01M397 1144h.01M1432 1144h.01M997 1144h.01M775 1144h.01M1304 1144h.01M324 1144h.01M873 1143h.01M370 1144h.01M1621 1144h.01M564 1144h.01M838 1143h.01M1384 1144h.01M1238 1144h.01M627 1144h.01M1106 1144h.01M1291 1144h.01M1471 1143h.01M1172 1143h.01M649 1144h.01M1036 1143h.01M548 1144h.01M249 1144h.01M938 1143h.01M641 1144h.01M699 1144h.01M1617 1143h.01M1209 1143h.01M787 1144h.01M1636 1144h.01M382 1144h.01M1036 1145h.01M588 1145h.01M1144 1145h.01M1188 1144h.01M586 1145h.01M1165 1144h.01M268 1145h.01M997 1145h.01M1696 1145h.01M769 1145h.01M216 1145h.01M1701 1145h.01M787 1145h.01M235 1145h.01M258 1145h.01M1227 1144h.01M1545 1144h.01M558 1145h.01M372 1145h.01M1222 1145h.01M847 1145h.01M767 1145h.01M1544 1145h.01M753 1145h.01M672 1145h.01M1493 1146h.01M384 1145h.01M644 1145h.01M1682 1146h.01M439 1146h.01M1634 1146h.01M1515 1146h.01M606 1145h.01M1250 1146h.01M1197 1145h.01M1315 1145h.01M1683 1146h.01M935 1146h.01M1149 1145h.01M1590 1146h.01M1332 1146h.01M450 1146h.01M670 1146h.01M696 1146h.01M1015 1146h.01M1226 1146h.01M294 1146h.01M1174 1146h.01M680 1146h.01M1313 1146h.01M1321 1146h.01M510 1146h.01M433 1147h.01M1426 1147h.01M1564 1147h.01M976 1147h.01M1029 1146h.01M525 1147h.01M1484 1147h.01M743 1147h.01M1472 1147h.01M1611 1147h.01M1540 1147h.01M310 1147h.01M720 1147h.01M313 1147h.01M936 1147h.01M1275 1147h.01M780 1147h.01M626 1147h.01M805 1147h.01M1698 1147h.01M603 1148h.01M933 1148h.01M1062 1147h.01M567 1148h.01M405 1148h.01M275 1148h.01M222 1147h.01M1262 1148h.01M1639 1147h.01M489 1147h.01M502 1148h.01M847 1148h.01M459 1148h.01M280 1148h.01M1058 1148h.01M902 1148h.01M795 1148h.01M1499 1149h.01M1355 1149h.01M404 1149h.01M424 1149h.01M405 1149h.01M390 1149h.01M381 1149h.01M840 1149h.01M1373 1149h.01M1301 1148h.01M756 1149h.01M1194 1148h.01M1619 1149h.01M1512 1149h.01M903 1148h.01M383 1149h.01M1309 1149h.01M1607 1149h.01M692 1149h.01M995 1148h.01M1552 1150h.01M1361 1150h.01M854 1150h.01M1352 1150h.01M537 1150h.01M1177 1150h.01M560 1149h.01M1452 1150h.01M1448 1150h.01M1392 1150h.01M902 1150h.01M789 1150h.01M1697 1150h.01M1306 1150h.01M1151 1150h.01M205 1150h.01M1505 1150h.01M1513 1150h.01M1523 1151h.01M960 1150h.01M312 1151h.01M1509 1151h.01M744 1150h.01M519 1151h.01M642 1151h.01M264 1151h.01M893 1150h.01M1433 1151h.01M377 1151h.01M1490 1151h.01M1331 1150h.01M1352 1152h.01M1468 1151h.01M926 1152h.01M1419 1152h.01M1317 1152h.01M441 1152h.01M1282 1152h.01M892 1152h.01M425 1152h.01M611 1153h.01M731 1153h.01M1652 1153h.01M781 1153h.01M346 1152h.01M1690 1153h.01M1263 1153h.01M1164 1153h.01M1208 1153h.01M889 1153h.01M1493 1153h.01M1246 1153h.01M955 1153h.01M336 1153h.01M382 1153h.01M1080 1153h.01M337 1153h.01M1130 1154h.01M1576 1154h.01M656 1154h.01M314 1154h.01M436 1154h.01M622 1154h.01M1256 1154h.01M291 1153h.01M1458 1154h.01M1067 1153h.01M1100 1154h.01M463 1154h.01M1499 1154h.01M1064 1154h.01M208 1154h.01M1595 1154h.01M1029 1154h.01M950 1154h.01M249 1155h.01M1087 1154h.01M1347 1155h.01M523 1155h.01M1364 1155h.01M1552 1155h.01M1045 1155h.01M723 1155h.01M1168 1154h.01M598 1155h.01M662 1155h.01M280 1155h.01M551 1154h.01M1289 1155h.01M1063 1156h.01M910 1156h.01M730 1156h.01M1412 1156h.01M649 1156h.01M478 1155h.01M1114 1156h.01M364 1156h.01M915 1156h.01M1606 1155h.01M480 1155h.01M1131 1156h.01M1009 1155h.01M958 1155h.01M334 1156h.01M1479 1156h.01M331 1157h.01M1107 1157h.01M1656 1157h.01M335 1157h.01M466 1157h.01M419 1157h.01M1526 1157h.01M1071 1156h.01M1230 1156h.01M672 1157h.01M894 1157h.01M1476 1158h.01M1645 1158h.01M511 1158h.01M1087 1158h.01M966 1157h.01M1225 1158h.01M770 1158h.01M563 1158h.01M1083 1158h.01M717 1157h.01M1498 1159h.01M315 1158h.01M467 1159h.01M461 1159h.01M1576 1158h.01M317 1159h.01M1300 1159h.01M317 1159h.01M1245 1159h.01M963 1159h.01M1542 1159h.01M722 1159h.01M392 1159h.01M490 1158h.01M691 1159h.01M993 1158h.01M1075 1159h.01M1300 1159h.01M317 1159h.01M1437 1160h.01M266 1160h.01M590 1160h.01M1162 1160h.01M1472 1160h.01M1688 1160h.01M223 1160h.01M1209 1160h.01M1192 1159h.01M227 1159h.01M1159 1160h.01M1427 1160h.01M397 1159h.01M1204 1160h.01M1532 1160h.01M288 1161h.01M734 1160h.01M247 1161h.01M744 1161h.01M1114 1161h.01M1115 1161h.01M1209 1161h.01M658 1161h.01M405 1161h.01M1123 1161h.01M489 1161h.01M1134 1162h.01M352 1162h.01M463 1162h.01M1359 1161h.01M1028 1162h.01M608 1161h.01M810 1162h.01M779 1161h.01M803 1162h.01M218 1162h.01M828 1162h.01M1354 1162h.01M1432 1163h.01M333 1163h.01M905 1163h.01M538 1163h.01M460 1163h.01M1554 1163h.01M1062 1163h.01M951 1163h.01M253 1163h.01M491 1162h.01M736 1163h.01M1399 1164h.01M1374 1164h.01M1283 1164h.01M1643 1164h.01M1510 1164h.01M1246 1164h.01M255 1164h.01M1289 1164h.01M578 1164h.01M1490 1164h.01M1659 1164h.01M772 1164h.01M930 1164h.01M929 1164h.01M1150 1164h.01M1074 1164h.01M609 1165h.01M1232 1165h.01M1460 1165h.01M867 1165h.01M517 1165h.01M251 1165h.01M267 1165h.01M1465 1165h.01M842 1165h.01M688 1165h.01M494 1165h.01M668 1165h.01M1546 1165h.01M1614 1165h.01M1696 1165h.01M1454 1165h.01M489 1166h.01M1615 1165h.01M819 1166h.01M445 1165h.01M1494 1166h.01M1529 1166h.01M1532 1166h.01M1396 1166h.01M765 1166h.01M1573 1166h.01M843 1165h.01M913 1167h.01M496 1166h.01M1153 1167h.01M1198 1167h.01M1506 1167h.01M1659 1167h.01M945 1167h.01M518 1167h.01M480 1167h.01M1467 1168h.01M760 1168h.01M985 1168h.01M861 1168h.01M499 1168h.01M1664 1168h.01M1108 1168h.01M872 1168h.01M1644 1167h.01M1464 1168h.01M1619 1168h.01M1360 1168h.01M1003 1169h.01M1613 1169h.01M235 1169h.01M1148 1170h.01M596 1170h.01M1685 1170h.01M255 1170h.01M1049 1169h.01M764 1170h.01M1499 1170h.01M1158 1170h.01M834 1170h.01M1289 1169h.01M1289 1170h.01M386 1171h.01M352 1171h.01M1323 1171h.01M1243 1171h.01M921 1171h.01M1384 1171h.01M1251 1171h.01M1558 1171h.01M1103 1171h.01M996 1171h.01M606 1170h.01M437 1171h.01M1254 1171h.01M833 1171h.01M514 1171h.01M1178 1171h.01M1540 1171h.01M534 1172h.01M1115 1172h.01M337 1172h.01M387 1172h.01M405 1171h.01M1354 1172h.01M1544 1171h.01M684 1172h.01M892 1173h.01M821 1173h.01M403 1173h.01M1367 1173h.01M667 1173h.01M763 1173h.01M489 1173h.01M739 1173h.01M1447 1173h.01M1213 1173h.01M560 1173h.01M1320 1173h.01M1432 1173h.01M437 1174h.01M698 1174h.01M1235 1174h.01M1650 1174h.01M595 1174h.01M651 1174h.01M1342 1174h.01M891 1174h.01M248 1174h.01M1450 1174h.01M1101 1175h.01M1195 1175h.01M1545 1175h.01M1382 1175h.01M680 1175h.01M486 1175h.01M1185 1175h.01M677 1175h.01M1329 1175h.01M586 1175h.01M881 1175h.01M1421 1175h.01M1568 1175h.01M913 1174h.01M1118 1176h.01M576 1176h.01M651 1176h.01M1080 1176h.01M287 1176h.01M1619 1176h.01M837 1176h.01M459 1176h.01M544 1176h.01M1593 1176h.01M1582 1176h.01M507 1177h.01M1151 1176h.01M1217 1178h.01M706 1178h.01M874 1178h.01M1001 1177h.01M1221 1178h.01M601 1177h.01M1581 1179h.01M1231 1179h.01M693 1178h.01M1522 1178h.01M1117 1179h.01M344 1178h.01M907 1180h.01M575 1180h.01M567 1180h.01M575 1180h.01M1124 1180h.01M802 1180h.01M207 1181h.01M428 1181h.01M371 1180h.01M1082 1181h.01M1374 1181h.01M897 1181h.01M241 1181h.01M731 1181h.01M1100 1181h.01M1701 1182h.01M1334 1181h.01M1467 1182h.01M1151 1182h.01M1277 1182h.01M724 1182h.01M1466 1182h.01M457 1182h.01M1055 1182h.01M932 1181h.01M969 1182h.01M854 1183h.01M1176 1183h.01M1398 1183h.01M444 1182h.01M1547 1183h.01M1086 1183h.01M684 1183h.01M337 1184h.01M1394 1184h.01M1356 1185h.01M808 1185h.01M913 1185h.01M746 1185h.01M755 1185h.01M874 1185h.01M1266 1185h.01M1288 1185h.01M1534 1185h.01M1450 1185h.01M893 1185h.01M688 1185h.01M592 1185h.01M1617 1186h.01M1019 1186h.01M895 1186h.01M706 1186h.01M1073 1186h.01M456 1186h.01M670 1186h.01M1207 1187h.01M1091 1187h.01M1059 1187h.01M652 1187h.01M996 1186h.01M731 1187h.01M1021 1187h.01M1358 1187h.01M243 1188h.01M553 1188h.01M867 1188h.01M1557 1188h.01M1170 1188h.01M978 1188h.01M1534 1188h.01M813 1188h.01M1360 1188h.01M1429 1188h.01M1262 1188h.01M1261 1189h.01M1085 1190h.01M1104 1190h.01M243 1190h.01M1301 1189h.01M1327 1190h.01M1431 1190h.01M1090 1190h.01M985 1191h.01M1230 1191h.01M1573 1192h.01M208 1192h.01M1355 1191h.01M934 1192h.01M629 1192h.01M400 1193h.01M1022 1193h.01M1125 1192h.01M299 1193h.01M624 1193h.01M1507 1193h.01M1385 1193h.01M800 1193h.01M1408 1193h.01M1413 1193h.01M602 1194h.01M804 1194h.01M829 1194h.01M1636 1194h.01M318 1195h.01M1585 1195h.01M539 1194h.01M1308 1195h.01M1079 1195h.01M758 1196h.01M582 1196h.01M1405 1196h.01M1304 1196h.01M663 1195h.01M1460 1196h.01M393 1197h.01M825 1196h.01M543 1197h.01M941 1196h.01M971 1197h.01M328 1197h.01M1214 1198h.01M325 1198h.01M290 1198h.01M510 1198h.01M902 1198h.01M387 1198h.01M1653 1198h.01M254 1198h.01M276 1199h.01M1698 1198h.01M1318 1199h.01M1265 1199h.01M1452 1199h.01M1235 1200h.01M500 1200h.01M773 1200h.01M549 1200h.01M1278 1200h.01M742 1200h.01M1038 1200h.01M700 1201h.01M410 1201h.01M550 1201h.01M359 1201h.01M1504 1201h.01M371 1200h.01M1117 1202h.01M304 1202h.01M772 1202h.01M1023 1203h.01M966 1203h.01M1152 1202h.01M329 1202h.01M639 1203h.01M675 1203h.01M804 1204h.01M852 1204h.01M1385 1204h.01M554 1204h.01M1481 1204h.01M942 1205h.01M407 1205h.01M744 1205h.01M1571 1205h.01M731 1205h.01M612 1205h.01M232 1206h.01M1234 1206h.01M1571 1206h.01M283 1206h.01M1035 1208h.01M1307 1208h.01M830 1209h.01M1368 1208h.01M1281 1209h.01M1558 1210h.01M1124 1210h.01M1167 1210h.01M585 1209h.01M794 1211h.01M1228 1211h.01M1037 1211h.01M450 1211h.01M1637 1211h.01M534 1211h.01M330 1211h.01M1560 1211h.01M1039 1211h.01M1453 1211h.01M1224 1211h.01M957 1210h.01M1287 1212h.01M706 1212h.01M993 1212h.01M1687 1211h.01M803 1213h.01M370 1212h.01M1233 1213h.01M1625 1213h.01M331 1214h.01M1436 1214h.01M865 1214h.01M1243 1213h.01M240 1215h.01M419 1216h.01M1630 1216h.01M530 1215h.01M1117 1215h.01M1384 1215h.01M555 1217h.01M1277 1217h.01M1320 1218h.01M1503 1218h.01M879 1218h.01M1429 1218h.01M589 1218h.01M747 1219h.01M858 1219h.01M224 1219h.01M963 1220h.01M1042 1220h.01M864 1219h.01M1351 1220h.01M1442 1220h.01M1661 1221h.01M588 1221h.01M1308 1221h.01M1359 1221h.01M985 1221h.01M600 1221h.01M352 1222h.01M350 1222h.01M1612 1223h.01M359 1223h.01M481 1223h.01M1493 1224h.01M1388 1224h.01M1026 1226h.01M377 1226h.01M1267 1226h.01M877 1226h.01M356 1227h.01M248 1227h.01M1666 1228h.01M1687 1229h.01M814 1229h.01M786 1229h.01M1393 1230h.01M849 1230h.01M1082 1231h.01M1193 1231h.01M610 1231h.01M1426 1231h.01M247 1232h.01M546 1232h.01M479 1232h.01M242 1233h.01M1071 1232h.01M237 1233h.01M588 1234h.01M255 1235h.01M205 946h.01M207 1072h.01M206 909h.01M208 904h.01M206 944h.01M204 931h.01M205 1010h.01M205 1008h.01M206 963h.01M207 930h.01M204 1032h.01M211 1035h.01M204 961h.01M208 958h.01M204 962h.01M205 1133h.01M206 1128h.01M206 1094h.01M206 947h.01M206 910h.01M205 980h.01M206 1044h.01M207 962h.01M205 947h.01M204 972h.01M207 1069h.01M205 1116h.01M206 1107h.01M207 1131h.01M206 1036h.01M208 941h.01M207 1096h.01M208 975h.01M204 1074h.01M211 1086h.01M204 1041h.01M205 1132h.01M205 983h.01M207 922h.01M205 1051h.01M208 930h.01M206 1064h.01M205 900h.01M211 968h.01M206 1025h.01M205 1125h.01M204 972h.01M207 978h.01M205 1075h.01M205 979h.01M207 1124h.01M208 1107h.01M206 1079h.01M208 987h.01M206 1065h.01M207 1082h.01M207 1057h.01M205 930h.01M208 1037h.01M211 956h.01M210 1117h.01M209 1012h.01M205 898h.01M206 1114h.01M204 1118h.01M205 911h.01M205 968h.01M205 1119h.01M206 929h.01M206 1081h.01M208 1099h.01M205 921h.01M204 1073h.01M207 1050h.01M206 1083h.01M206 976h.01M205 943h.01M208 1090h.01M205 915h.01M207 1081h.01M206 933h.01M208 942h.01M207 969h.01M205 1052h.01M207 1026h.01M211 1048h.01M207 899h.01M205 900h.01M1694 1059h.01M1696 1098h.01M1699 1060h.01M1700 1042h.01M1691 1119h.01M1698 948h.01M1698 1046h.01M1691 1053h.01M1701 901h.01M1701 1094h.01M1693 998h.01M1699 982h.01M1700 1051h.01M1701 1102h.01M1697 998h.01M1694 963h.01M1695 1116h.01M1700 1025h.01M1699 1129h.01M1701 1117h.01M1698 1133h.01M1700 978h.01M1700 1072h.01M1697 903h.01M1699 993h.01M1695 1051h.01M1694 1046h.01M1695 911h.01M1697 1089h.01M1698 935h.01M1696 1100h.01M1696 1007h.01M1701 913h.01M1700 918h.01M1699 948h.01M1700 938h.01M1698 1112h.01M1693 1040h.01M1699 909h.01M1696 972h.01M1697 1016h.01M1699 1037h.01M1697 1084h.01M1699 910h.01M1701 983h.01M1694 945h.01M1697 948h.01M1701 1053h.01M1698 1114h.01M1698 897h.01M1698 1131h.01M1692 980h.01M1700 1053h.01M1694 1071h.01M1698 1005h.01M1696 1041h.01M1700 1020h.01M1701 933h.01M1694 898h.01M1697 920h.01M1698 1112h.01M1700 965h.01M1699 962h.01M1699 1119h.01M1699 1109h.01M1700 1100h.01M1701 973h.01M1697 952h.01M1695 1017h.01M1697 1059h.01M1696 1007h.01M1692 1056h.01M1693 909h.01M1696 1051h.01M1693 987h.01M1694 1071h.01M1699 1046h.01M1695 942h.01M1695 933h.01M1695 1061h.01M1700 953h.01M1701 906h.01M1696 1042h.01M1698 919h.01M1696 1129h.01M1699 1010h.01M1699 1025h.01M1699 909h.01M1698 913h.01M1692 988h.01M1700 945h.01M1697 1104h.01M1694 1013h.01M1699 1027h.01M1695 1095h.01M1694 900h.01M214 700h.01M236 708h.01M211 734h.01M266 734h.01M282 727h.01M338 713h.01M341 735h.01M438 702h.01M487 678h.01M475 724h.01M540 734h.01M572 722h.01M514 746h.01M610 743h.01M596 753h.01M475 764h.01M487 759h.01M496 761h.01M506 760h.01M560 761h.01M546 767h.01M419 764h.01M379 768h.01M329 760h.01M337 764h.01M302 768h.01M242 771h.01M264 780h.01M246 782h.01M321 786h.01M400 781h.01M426 778h.01M425 788h.01M484 782h.01M501 788h.01M531 781h.01M602 770h.01M596 778h.01M616 779h.01M620 788h.01M579 789h.01M447 796h.01M400 795h.01M240 799h.01M542 796h.01M562 798h.01M588 798h.01M694 724h.01M672 743h.01M745 736h.01M789 732h.01M805 742h.01M796 748h.01M831 736h.01M842 745h.01M893 725h.01M949 718h.01M992 716h.01M1056 676h.01M1058 705h.01M926 741h.01M912 749h.01M951 745h.01M910 764h.01M981 753h.01M1036 748h.01M778 756h.01M774 764h.01M760 761h.01M695 764h.01M686 789h.01M720 782h.01M760 782h.01M760 790h.01M814 783h.01M980 770h.01M962 780h.01M1012 766h.01M1006 774h.01M1022 774h.01M1025 782h.01M990 782h.01M995 791h.01M858 790h.01M868 786h.01M884 788h.01M850 798h.01M889 799h.01M942 795h.01M956 798h.01M1054 795h.01M1075 788h.01M789 795h.01M1304 676h.01M1284 700h.01M1479 690h.01M1129 717h.01M1205 716h.01M1202 735h.01M1201 740h.01M1184 746h.01M1434 721h.01M1434 754h.01M1509 743h.01M1286 738h.01M1309 739h.01M1318 736h.01M1140 740h.01M1124 746h.01M1129 751h.01M1140 748h.01M1156 754h.01M1166 760h.01M1156 770h.01M1339 756h.01M1318 766h.01M1331 768h.01M1244 777h.01M1462 768h.01M1476 768h.01M1466 774h.01M1402 776h.01M1364 780h.01M1364 790h.01M1494 779h.01M1506 790h.01M1268 784h.01M1268 794h.01M1301 784h.01M1301 795h.01M1089 778h.01M1080 785h.01M1089 790h.01M1110 784h.01M1124 784h.01M1136 782h.01M1118 792h.01M1168 788h.01M1181 795h.01M1201 791h.01M1158 799h.01M1386 792h.01M1405 788h.01M1425 785h.01M1416 794h.01M1452 786h.01M1442 792h.01M1460 799h.01M1564 690h.01M1642 680h.01M1654 727h.01M1622 729h.01M1632 738h.01M1600 742h.01M1605 747h.01M1510 743h.01M1568 754h.01M1559 764h.01M1568 768h.01M1584 772h.01M1684 765h.01M1696 764h.01M1650 771h.01M1642 775h.01M1635 780h.01M1687 783h.01M1702 790h.01M1658 792h.01M1643 789h.01M1602 785h.01M1619 793h.01M1603 797h.01M1587 793h.01M1577 796h.01M1544 782h.01M1542 792h.01M1506 792h.01M1325 621h.01M1642 680h.01M216 1237h.01M246 1239h.01M241 1255h.01M248 1260h.01M278 1268h.01M242 1289h.01M263 1290h.01M306 1340h.01M315 1300h.01M323 1303h.01M334 1301h.01M286 1238h.01M302 1239h.01M336 1242h.01M346 1241h.01M434 1244h.01M454 1240h.01M417 1257h.01M430 1272h.01M455 1276h.01M464 1292h.01M456 1308h.01M473 1316h.01M498 1315h.01M568 1332h.01M568 1298h.01M566 1255h.01M574 1244h.01M592 1249h.01M592 1256h.01M609 1268h.01M758 1244h.01M711 1241h.01M702 1250h.01M696 1262h.01M682 1269h.01M678 1288h.01M668 1294h.01M796 1256h.01M820 1264h.01M799 1293h.01M816 1301h.01M839 1307h.01M838 1242h.01M858 1241h.01M865 1256h.01M889 1291h.01M938 1307h.01M995 1308h.01M899 1239h.01M902 1248h.01M895 1258h.01M944 1236h.01M936 1256h.01M948 1260h.01M950 1271h.01M976 1238h.01M998 1278h.01M1024 1259h.01M1041 1256h.01M1056 1282h.01M1032 1292h.01M1035 1308h.01M1114 1244h.01M1104 1260h.01M1121 1264h.01M1166 1242h.01M1148 1259h.01M1158 1265h.01M1171 1259h.01M1192 1246h.01M1204 1250h.01M1196 1255h.01M1266 1236h.01M1280 1261h.01M1208 1300h.01M1239 1314h.01M1306 1249h.01M1316 1236h.01M1330 1242h.01M1335 1252h.01M1338 1265h.01M1345 1240h.01M1356 1236h.01M1338 1292h.01M1337 1329h.01M1315 1350h.01M1428 1242h.01M1450 1252h.01M1445 1275h.01M1449 1281h.01M1414 1286h.01M1425 1311h.01M1479 1264h.01M1502 1278h.01M1480 1296h.01M1509 1341h.01M1518 1310h.01M1526 1257h.01M1549 1253h.01M1542 1235h.01M1553 1238h.01M1585 1245h.01M1602 1237h.01M1614 1236h.01M1640 1236h.01M1667 1246h.01M1699 1249h.01M1615 1258h.01M1610 1268h.01M1584 1268h.01M1578 1271h.01M1649 1264h.01M1660 1281h.01M1641 1298h.01M1502 1278h.01M1520 1308h.01M1549 1300h.01M1577 1316h.01M1594 1304h.01M1601 1310h.01M1602 1318h.01M1508 1342h.01M1578 1357h.01" stroke="#a0a0a0" stroke-width="19.3" stroke-linecap="round" fill="none"/>
<path d="M447.7 1325.7h.01M576.0 1326.7h.01M504.3 1364.3h.01M478.0 1415.3h.01M577.3 1390.7h.01M311.0 1453.0h.01M299.3 1500.0h.01M762.3 1336.7h.01M847.7 1345.0h.01M716.0 1414.0h.01M949.7 1351.7h.01M930.3 1379.3h.01M1056.3 1336.7h.01M1222.7 1361.7h.01M945.3 1500.0h.01M1213.3 1449.3h.01M1261.0 1449.2h.01M1283.5 1489.0h.01M1257.3 1514.3h.01M1402.3 1326.7h.01M1409.3 1369.3h.01M1452.7 1358.3h.01M1452.0 1388.7h.01M1484.0 1414.0h.01M1507.7 1404.0h.01M1521.0 1423.3h.01M1585.7 1332.3h.01M1584.3 1350.0h.01M1586.7 1366.7h.01M1649.3 1365.7h.01M1666.7 1369.3h.01M1417.7 1516.7h.01M1508.0 1686.4h.01" stroke="#ff00ff" stroke-width="19.3" stroke-linecap="round" fill="none"/>
<line x1="770.2" y1="696.2" x2="765" y2="761.2" stroke="#000" stroke-width="4.3" stroke-linecap="round"/>
<text class="lab" transform="translate(1027.8,149.3) scale(1,1.045)">NRAS</text>
<text class="lab" transform="translate(1288.0,195.0) scale(1,1.045)">RAF1</text>
<text class="lab" transform="translate(1237.7,316.7) scale(1,1.045)">RCE1</text>
<text class="lab" transform="translate(1391.8,312.7) scale(1,1.045)">SHOC2</text>
<text class="lab" transform="translate(1326.7,400.0) scale(1,1.045)">SCRIB</text>
<text class="lab" transform="translate(1171.7,391.7) scale(1,1.045)">PPP3R1</text>
<text class="lab" transform="translate(1246.7,485.0) scale(1,1.045)">PRKCD</text>
<text class="lab" transform="translate(1415.8,469.3) scale(1,1.045)">STIM2</text>
<text class="lab" transform="translate(1597.2,544.0) scale(1,1.045)">TSC2</text>
<text class="lab" transform="translate(1245.8,583.3) scale(1,1.045)">PRKCE</text>
<text class="lab" transform="translate(1411.7,591.7) scale(1,1.045)">SETD1B</text>
<text class="lab" transform="translate(908.4,445.0) scale(1,1.045)">MAPK1</text>
<text class="lab" transform="translate(679.0,495.0) scale(1,1.045)">GNB1</text>
<text class="lab" transform="translate(803.4,506.7) scale(1,1.045)">ICMT</text>
<text class="lab" transform="translate(1095.3,500.0) scale(1,1.045)">NSD1</text>
<text class="lab" transform="translate(946.5,555.0) scale(1,1.045)">MAP2K1</text>
<text class="lab" transform="translate(657.8,562.5) scale(1,1.045)">GNG5</text>
<text class="lab" transform="translate(350.0,560.0) scale(1,1.045)">BCL6</text>
<text class="lab" transform="translate(235.8,656.7) scale(1,1.045)">API5</text>
<text class="lab" transform="translate(520.0,575.0) scale(1,1.045)">DIEXF</text>
<text class="lab" transform="translate(648.9,633.3) scale(1,1.045)">GNA15</text>
<text class="lab" transform="translate(656.2,718.3) scale(1,1.045)">GABRB1</text>
<text class="lab" transform="translate(693.9,778.3) scale(1,1.045)">HIVEP2</text>
<text class="lab" transform="translate(800.8,611.7) scale(1,1.045)">KDM5C</text>
<text class="lab" transform="translate(929.1,679.3) scale(1,1.045)">LPAR5</text>
<text class="lab" transform="translate(1096.0,610.0) scale(1,1.045)">NPRL3</text>
<text class="lab" transform="translate(1088.8,700.0) scale(1,1.045)">MYCBP2</text>
<text class="lab" transform="translate(816.4,721.7) scale(1,1.045)">ID3</text>
<text class="lab" transform="translate(1252.8,641.3) scale(1,1.045)">PRR21</text>
<text class="lab" transform="translate(1301.3,720.0) scale(1,1.045)">RIC8A</text>
<text class="lab" transform="translate(1445.3,657.3) scale(1,1.045)">SLC25A1</text>
<text class="lab" transform="translate(1654.0,620.7) scale(1,1.045)">WDR20</text>
<text class="lab" transform="translate(1587.8,744.3) scale(1,1.045)">TRIM42</text>
<text class="lab" transform="translate(415.6,1303.3) scale(1,1.045)">CERS6</text>
<text class="lab" transform="translate(564.5,1303.3) scale(1,1.045)">DUSP1</text>
<text class="lab" transform="translate(447.5,1394.0) scale(1,1.045)">CSK</text>
<text class="lab" transform="translate(445.9,1462.3) scale(1,1.045)">CNOT8</text>
<text class="lab" transform="translate(608.9,1437.3) scale(1,1.045)">DUSP6</text>
<text class="lab" transform="translate(278.9,1431.7) scale(1,1.045)">BACH2</text>
<text class="lab" transform="translate(265.9,1547.7) scale(1,1.045)">ATP2B1</text>
<text class="lab" transform="translate(729.9,1315.0) scale(1,1.045)">HEXIM1</text>
<text class="lab" transform="translate(768.5,1384.3) scale(1,1.045)">KCTD5</text>
<text class="lab" transform="translate(749.5,1460.0) scale(1,1.045)">GNAS</text>
<text class="lab" transform="translate(940.4,1327.7) scale(1,1.045)">MBTPS2</text>
<text class="lab" transform="translate(910.8,1426.7) scale(1,1.045)">LZTR1</text>
<text class="lab" transform="translate(1088.3,1383.3) scale(1,1.045)">NPTN</text>
<text class="lab" transform="translate(1191.7,1327.7) scale(1,1.045)">PRRC2C</text>
<text class="lab" transform="translate(1013.0,1482.3) scale(1,1.045)">MARK2</text>
<text class="lab" transform="translate(1142.2,1440.7) scale(1,1.045)">PRKACA</text>
<text class="lab" transform="translate(1294.2,1427.5) scale(1,1.045)">RASA2</text>
<text class="lab" transform="translate(1342.5,1484.3) scale(1,1.045)">RHOA</text>
<text class="lab" transform="translate(1225.0,1561.7) scale(1,1.045)">RALGAPB</text>
<text class="lab" transform="translate(1370.3,1304.0) scale(1,1.045)">SMEK1</text>
<text class="lab" transform="translate(1346.2,1370.0) scale(1,1.045)">SNRK</text>
<text class="lab" transform="translate(1451.7,1460.0) scale(1,1.045)">TCF4</text>
<text class="lab" transform="translate(1609.7,1472.7) scale(1,1.045)">TMEM203</text>
<text class="lab" transform="translate(1525.5,1310.7) scale(1,1.045)">UBE2N</text>
<text class="lab" transform="translate(1688.3,1345.0) scale(1,1.045)">ZDHHC6</text>
<text class="lab" transform="translate(1696.3,1416.0) scale(1,1.045)">ZNF292</text>
<text class="lab" transform="translate(1449.5,1563.3) scale(1,1.045)">SOX4</text>
<text class="lab" transform="translate(1476.8,1733.0) scale(1,1.045)">TM2D2</text>
</svg></body></html>
